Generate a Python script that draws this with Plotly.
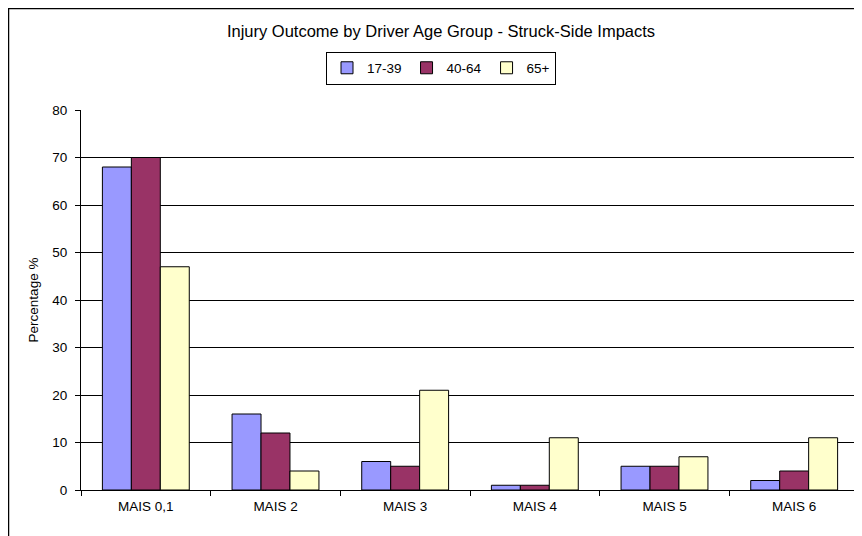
import plotly.graph_objects as go

# data
categories = ['MAIS 0,1', 'MAIS 2', 'MAIS 3', 'MAIS 4', 'MAIS 5', 'MAIS 6']
age_17_39 = [68, 16, 6, 1, 5, 2]
age_40_64 = [70, 12, 5, 1, 5, 4]
age_65_plus = [47, 4, 21, 11, 7, 11]

series = [
    ('17-39', age_17_39, '#9999FF'),
    ('40-64', age_40_64, '#993366'),
    ('65+', age_65_plus, '#FFFFCC'),
]

W, H = 862, 536
# page body has an 8px margin, so the figure sits 8px in from the window corner
OFF = 8
L = 81 - OFF
T = 110 - OFF
R = W - (859 - OFF)
B = H - (490 - OFF)
pw = W - L - R
ph = H - T - B


def px_x(x):
    # window pixel -> paper x
    return (x - OFF - L) / pw


def px_y(y):
    # window pixel (from top) -> paper y
    return (H - B - (y - OFF)) / ph


fig = go.Figure()
for name, vals, color in series:
    fig.add_trace(go.Bar(
        x=categories,
        y=vals,
        name=name,
        marker=dict(color=color, line=dict(color='black', width=1)),
    ))

fig.update_layout(
    width=W, height=H,
    margin=dict(l=L, r=R, t=T, b=B),
    paper_bgcolor='white',
    plot_bgcolor='white',
    font=dict(family='Liberation Sans, Arial, sans-serif', size=13, color='black'),
    barmode='group',
    bargap=0.33,
    bargroupgap=0,
    title=dict(
        text='Injury Outcome by Driver Age Group - Struck-Side Impacts',
        x=px_x(441), xref='paper', xanchor='center',
        y=1 - (31 - OFF) / H, yanchor='middle',
        font=dict(size=16.5),
    ),
    legend=dict(
        orientation='h',
        x=px_x(441), xanchor='center',
        y=px_y(68), yanchor='middle',
        bordercolor='black', borderwidth=1,
        font=dict(size=13.5),
        itemwidth=30,
        tracegroupgap=0,
    ),
    showlegend=True,
)

fig.update_xaxes(
    type='category',
    tickson='boundaries',
    ticks='outside', ticklen=5, tickcolor='black',
    showline=True, linecolor='black', linewidth=1,
    showgrid=False,
    tickfont=dict(size=13.5),
    ticklabelstandoff=4,
)
fig.update_yaxes(
    range=[0, 80], dtick=10,
    ticks='outside', ticklen=5, tickcolor='black',
    showline=True, linecolor='black', linewidth=1,
    showgrid=True, gridcolor='black', gridwidth=1,
    zeroline=False,
    title=dict(text='Percentage %', font=dict(size=13.5), standoff=10),
    tickfont=dict(size=13.5),
    ticklabelstandoff=5,
)

# outer chart border (Excel style frame)
fig.add_shape(
    type='rect', xref='paper', yref='paper',
    x0=px_x(8.5), x1=px_x(874), y0=px_y(560), y1=px_y(8.5),
    line=dict(color='black', width=1.5),
    fillcolor='rgba(0,0,0,0)',
    layer='below',
)

fig.write_html('out.html')
